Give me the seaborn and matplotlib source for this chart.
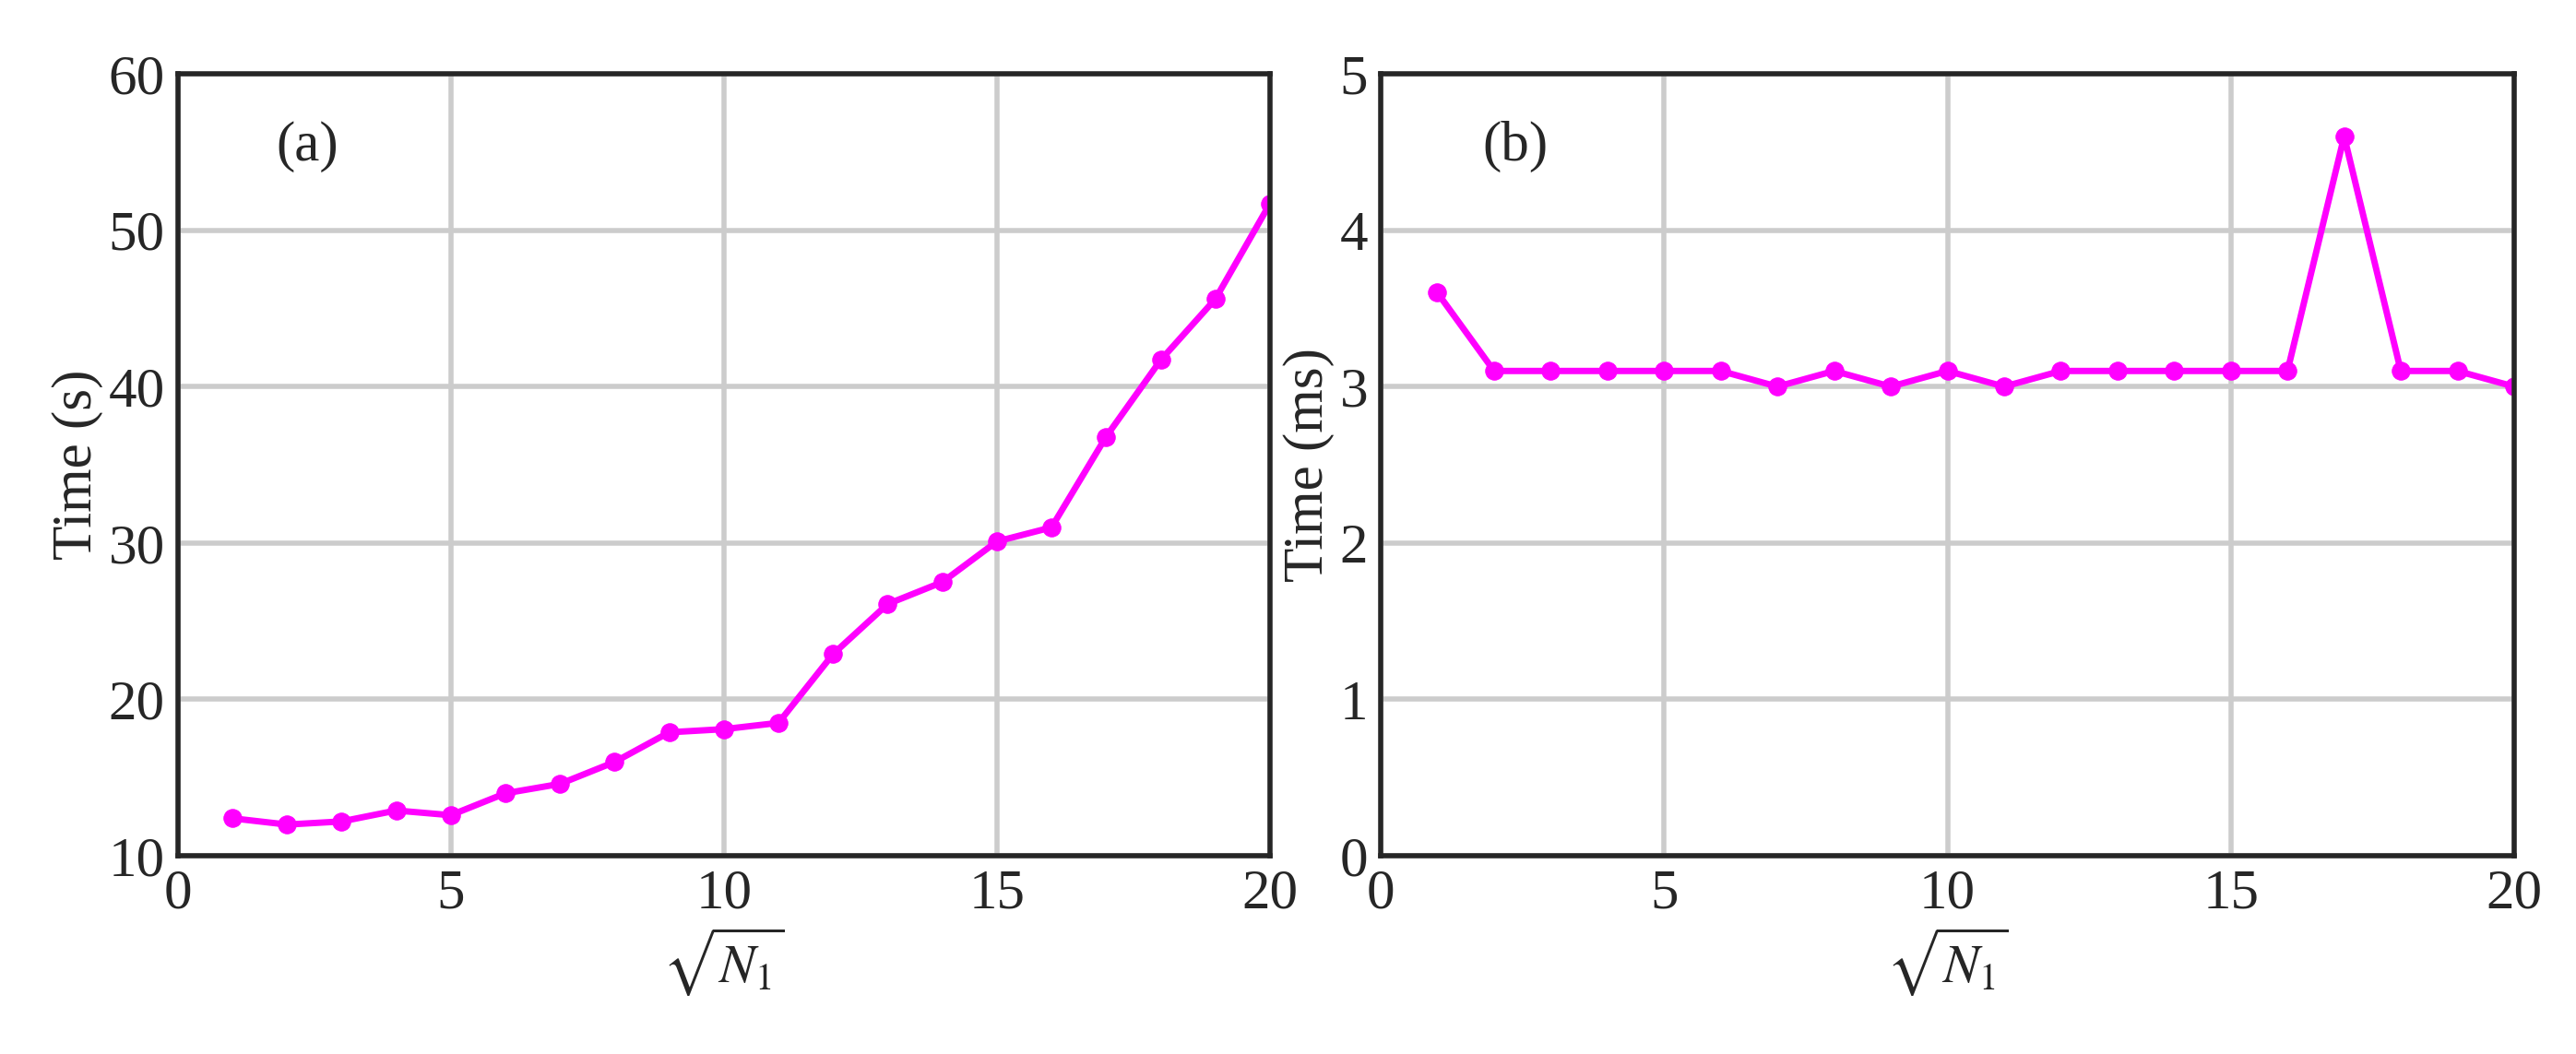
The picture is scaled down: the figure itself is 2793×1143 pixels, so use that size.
import matplotlib
matplotlib.use("Agg")
import matplotlib.pyplot as plt
import seaborn as sns

sns.set_style("white")
plt.rcParams.update({
    "font.family": ["Liberation Serif", "DejaVu Serif"],
    "mathtext.fontset": "stix",
    "font.size": 44,
})

n_sqrt = list(range(1, 21))
time_a = [12.4, 12.0, 12.2, 12.9, 12.6, 14.0, 14.6, 16.0, 17.9, 18.1,
          18.5, 22.9, 26.1, 27.5, 30.1, 31.0, 36.8, 41.7, 45.6, 51.7]
time_b = [3.6, 3.1, 3.1, 3.1, 3.1, 3.1, 3.0, 3.1, 3.0, 3.1,
          3.0, 3.1, 3.1, 3.1, 3.1, 3.1, 4.6, 3.1, 3.1, 3.0]

fig = plt.figure(figsize=(27.93, 11.43), dpi=100)
ax_a = fig.add_axes([0.069, 0.188, 0.424, 0.742])
ax_b = fig.add_axes([0.536, 0.188, 0.440, 0.742])

panels = [
    (ax_a, time_a, "Time (s)", (10, 60), range(10, 61, 10), "(a)"),
    (ax_b, time_b, "Time (ms)", (0, 5), range(0, 6), "(b)"),
]
for ax, y, ylab, ylim, yt, tag in panels:
    sns.lineplot(x=n_sqrt, y=y, ax=ax, color="#ff00ff", lw=5,
                 marker="o", markersize=14, markeredgecolor="#ff00ff")
    ax.set_xlim(0, 20)
    ax.set_ylim(*ylim)
    ax.set_xticks(range(0, 21, 5))
    ax.set_yticks(list(yt))
    ax.grid(True, color="#cccccc", lw=4)
    ax.set_axisbelow(True)
    for s in ax.spines.values():
        s.set_linewidth(4)
        s.set_color("#262626")
    ax.tick_params(direction="in", length=8, width=3, labelsize=44,
                   colors="#262626", pad=10)
    ax.set_xlabel(r"$\sqrt{N_1}$", fontsize=42, labelpad=4)
    ax.set_ylabel(ylab, fontsize=44)
    ax.text(0.09, 0.94, tag, transform=ax.transAxes, fontsize=44, va="top")

fig.savefig("out.png", dpi=100)
